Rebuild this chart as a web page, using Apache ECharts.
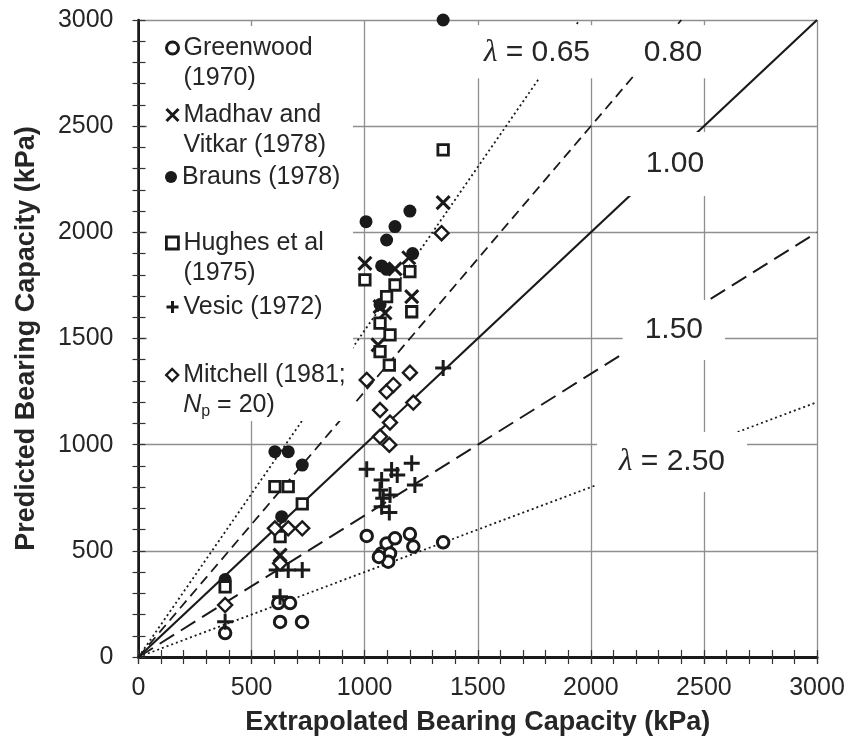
<!DOCTYPE html>
<html><head><meta charset="utf-8">
<script src="https://cdn.jsdelivr.net/npm/echarts@6/dist/echarts.min.js"></script>
<style>html,body{margin:0;padding:0;background:#fff}#c{width:852px;height:753px}</style>
</head><body><div id="c"></div>
<script>
// ---- axis scale ----
const axisMin = 0;
const axisMax = 3000;
const axisStep = 500;
const xTitle = 'Extrapolated Bearing Capacity (kPa)';
const yTitle = 'Predicted Bearing Capacity (kPa)';

// ---- data [extrapolated, predicted] in kPa ----
const greenwood = [[383,113],[618,254],[670,254],[626,165],[723,165],[1009,570],[1075,488],[1097,535],[1134,559],[1112,488],[1104,449],[1063,471],[1200,579],[1215,520],[1347,540]];
const madhav = [[626,480],[1347,2140],[1001,1854],[1134,1828],[1208,1697],[1068,1650],[1090,1620],[1059,1470],[1195,1880]];
const brauns = [[1347,3000],[1006,2050],[1134,2027],[1200,2100],[1097,1964],[1212,1900],[1075,1842],[1097,1826],[1068,1660],[603,967],[662,967],[724,904],[633,661],[383,365]];
const hughes = [[1347,2388],[1001,1776],[1134,1752],[1200,1815],[1097,1697],[1208,1626],[1068,1572],[1112,1517],[1068,1438],[1109,1375],[603,802],[662,802],[724,721],[626,567],[383,330]];
const vesic = [[1347,1361],[1009,884],[1119,881],[1144,857],[1208,912],[1222,810],[1075,834],[1068,787],[1082,748],[1112,763],[1075,708],[1109,680],[611,410],[662,410],[724,410],[626,284],[383,166]];
const mitchell = [[1340,1996],[1009,1305],[1097,1250],[1127,1281],[1215,1198],[1068,1163],[1112,1104],[1068,1038],[1109,999],[1200,1339],[603,606],[662,606],[724,606],[626,441],[383,245]];

const seriesNames = ['Greenwood (1970)','Madhav and Vitkar (1978)','Brauns (1978)','Hughes et al (1975)','Vesic (1972)','Mitchell (1981; Np = 20)'];
const legendLines = [['Greenwood','(1970)'],['Madhav and','Vitkar (1978)'],['Brauns (1978)'],['Hughes et al','(1975)'],['Vesic (1972)'],['Mitchell (1981;','N|p| = 20)']];

// ---- reference lines: predicted = extrapolated / lambda ----
const lambdas = [0.65, 0.80, 1.00, 1.50, 2.50];
const lineLabelText = ['λ = 0.65','0.80','1.00','1.50','λ = 2.50'];
const lineLabelAt = [[1762,2850],[2363,2850],[2372,2322],[2367,1540],[2359,918]];

// ---------------------------------------------------------------
const FONT = '"Liberation Sans", Arial, Helvetica, sans-serif';
const INK = '#1a1a1a';
const TXT = '#262626';

const markerDefs = [
  {symbol:'circle', size:11.5, style:{color:'#fff', borderColor:INK, borderWidth:3, opacity:1}},
  {symbol:'path://M0,0L10,10M10,0L0,10', size:13, style:{color:'transparent', borderColor:INK, borderWidth:3, opacity:1}},
  {symbol:'circle', size:13, style:{color:INK, borderWidth:0, opacity:1}},
  {symbol:'rect', size:10.5, style:{color:'#fff', borderColor:INK, borderWidth:2.8, opacity:1}},
  {symbol:'path://M5,0L5,10M0,5L10,5', size:16, style:{color:'transparent', borderColor:INK, borderWidth:3, opacity:1}},
  {symbol:'diamond', size:14, style:{color:'#fff', borderColor:INK, borderWidth:2.4, opacity:1}}
];
const dataSets = [greenwood, madhav, brauns, hughes, vesic, mitchell];

const dashes = [[2,3],[10,6],'solid',[17,8],[2,3]];
const widths = [1.8,1.8,2.2,2,1.8];

const series = [];
lambdas.forEach((lam, i) => {
  const xe = lam <= 1 ? axisMax * lam : axisMax;
  series.push({
    type:'line', silent:true, symbol:'none', z:2, clip:true,
    data:[[0,0],[xe, xe/lam]],
    lineStyle:{color:INK, width:widths[i], type:dashes[i]}
  });
});
dataSets.forEach((d, i) => {
  const m = markerDefs[i];
  series.push({
    name: seriesNames[i], type:'scatter', data:d, symbol:m.symbol, symbolSize:m.size,
    itemStyle:m.style, z:2, silent:true
  });
});
const labelPads = [[12,8,11,8],[12,8,11,8],[17,20,17,20],[15,22,15,22],[15,22,15,22]];
series.push({
  type:'scatter', silent:true, z:3, symbolSize:1, itemStyle:{color:'transparent', opacity:1},
  data: lineLabelAt.map((p,i)=>({value:p, label:{padding:labelPads[i]}})),
  label:{
    show:true, position:'inside', backgroundColor:'#fff', opacity:1,
    formatter:(p)=>{
      const t = lineLabelText[p.dataIndex];
      if (t.charAt(0) === 'λ') return '{l|λ}{t|' + t.slice(1) + '}';
      return '{t|' + t + '}';
    },
    rich:{
      t:{fontSize:30, lineHeight:30, color:TXT, fontFamily:FONT},
      l:{fontSize:31, lineHeight:30, color:TXT, fontFamily:'"Liberation Serif", serif', fontStyle:'italic'}
    }
  }
});

// legends
const iconCenters = [48,115,177,243,307,375];
const legendRich = {
  t:{fontSize:25, lineHeight:30, color:TXT, fontFamily:FONT},
  i:{fontSize:25, lineHeight:30, color:TXT, fontFamily:FONT, fontStyle:'italic'},
  s:{fontSize:16, lineHeight:18, color:TXT, fontFamily:FONT, verticalAlign:'bottom'}
};
function legendText(lines){
  return lines.map(l => {
    if (l.indexOf('|') >= 0) { const p = l.split('|'); return '{i|'+p[0]+'}{s|'+p[1]+'}{t|'+p[2]+'}'; }
    return '{t|'+l+'}';
  }).join('\n');
}
const legends = seriesNames.map((n, i) => {
  const two = legendLines[i].length > 1;
  return {
    data:[n], orient:'vertical', left:165, top: iconCenters[i] - (two ? 45 : 15),
    padding:0, itemGap:0, itemWidth:12, itemHeight:12, selectedMode:false, z:4,
    itemStyle:{borderWidth:'inherit', opacity:1},
    formatter:()=>legendText(legendLines[i]),
    textStyle:{fontSize:25, lineHeight:30, color:TXT, fontFamily:FONT, padding: two ? [30,0,0,0] : 0, rich:legendRich}
  };
});

const splitStyle = {lineStyle:{color:'#8f8f8f', width:1.3}};
const baseAxis = {type:'value', min:axisMin, max:axisMax, interval:axisStep};
const plainNum = (v) => String(v);

const option = {
  animation:false,
  textStyle:{fontFamily:FONT},
  grid:{left:138.5, right:35, top:20, bottom:96, containLabel:false},
  graphic:[{type:'rect', z:3, silent:true, shape:{x:147, y:26, width:206, height:395}, style:{fill:'#fff'}}],
  legend: legends,
  xAxis:[
    Object.assign({}, baseAxis, {position:'bottom',
      axisLine:{lineStyle:{color:INK, width:3}},
      axisTick:{show:true, inside:true, length:7, lineStyle:{color:'#333', width:1.2}},
      minorTick:{show:true, splitNumber:5, length:7, lineStyle:{color:'#333', width:1.2}},
      splitLine:Object.assign({show:true}, splitStyle),
      axisLabel:{fontSize:25, color:TXT, margin:19, fontFamily:FONT, formatter:plainNum},
      name:xTitle, nameLocation:'middle', nameGap:52,
      nameTextStyle:{fontSize:27, fontWeight:'bold', color:TXT, fontFamily:FONT}
    }),
    Object.assign({}, baseAxis, {position:'bottom',
      axisLine:{show:false},
      axisTick:{show:true, inside:false, length:7, lineStyle:{color:'#333', width:1.2}},
      minorTick:{show:true, splitNumber:5, length:7, lineStyle:{color:'#333', width:1.2}},
      splitLine:{show:false}, axisLabel:{show:false}
    }),
    Object.assign({}, baseAxis, {position:'top',
      axisLine:{lineStyle:{color:INK, width:2}},
      axisTick:{show:true, inside:true, length:7, lineStyle:{color:'#333', width:1.2}},
      splitLine:{show:false}, axisLabel:{show:false}
    })
  ],
  yAxis:[
    Object.assign({}, baseAxis, {position:'left',
      axisLine:{show:true, lineStyle:{color:INK, width:2}},
      axisTick:{show:true, inside:true, length:7, lineStyle:{color:'#333', width:1.2}},
      minorTick:{show:true, splitNumber:5, length:7, lineStyle:{color:'#333', width:1.2}},
      splitLine:Object.assign({show:true}, splitStyle),
      axisLabel:{fontSize:25, color:TXT, margin:25, fontFamily:FONT, formatter:plainNum},
      name:yTitle, nameLocation:'middle', nameGap:98, nameRotate:90,
      nameTextStyle:{fontSize:27, fontWeight:'bold', color:TXT, fontFamily:FONT}
    }),
    Object.assign({}, baseAxis, {position:'left',
      axisLine:{show:false},
      axisTick:{show:true, inside:false, length:6, lineStyle:{color:'#333', width:1.2}},
      minorTick:{show:true, splitNumber:5, length:6, lineStyle:{color:'#333', width:1.2}},
      splitLine:{show:false}, axisLabel:{show:false}
    }),
    Object.assign({}, baseAxis, {position:'right',
      axisLine:{show:true, lineStyle:{color:INK, width:2.5}},
      axisTick:{show:false}, splitLine:{show:false}, axisLabel:{show:false}
    })
  ],
  series: series
};
const chart = echarts.init(document.getElementById('c'), null, {renderer:'canvas'});
chart.setOption(option);
</script></body></html>
